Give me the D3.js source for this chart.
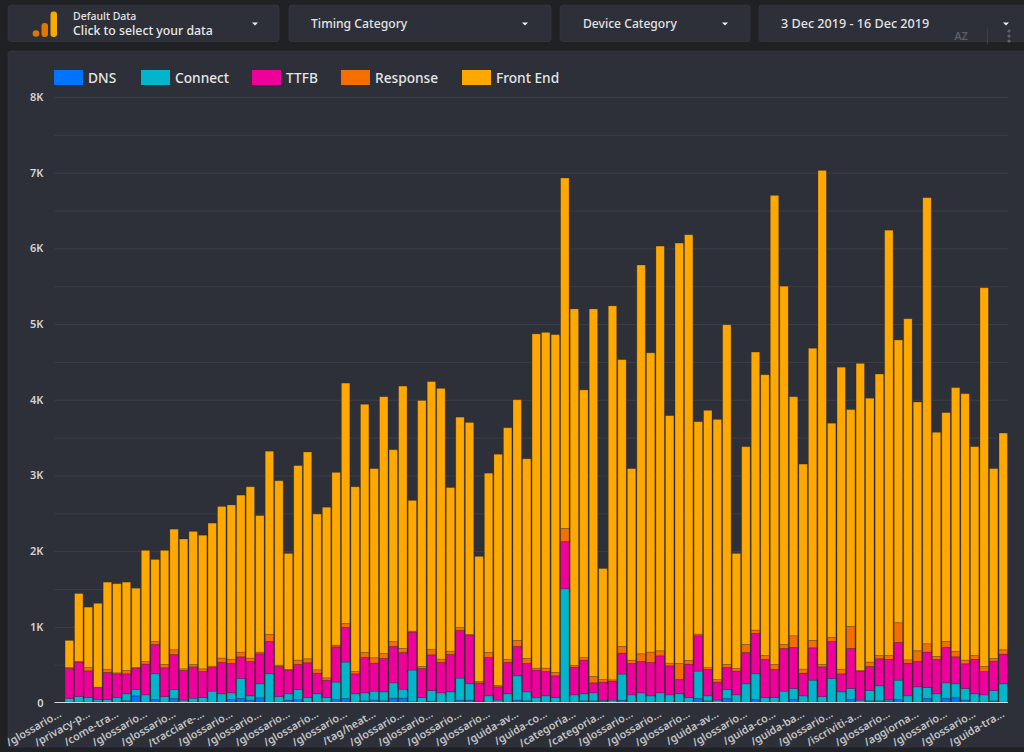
<!DOCTYPE html>
<html><head><meta charset="utf-8">
<script src="https://cdn.jsdelivr.net/npm/d3@7"></script>
<style>
html,body{margin:0;padding:0;background:#202125;overflow:hidden}
svg{display:block}
text{font-family:"Noto Sans",sans-serif}
</style></head><body><div id="chart"></div>
<script>
const seriesNames = ["DNS","Connect","TTFB","Response","Front End"];
const seriesColors = ["#0073ff","#00b5cc","#f0009a","#f56f00","#ffa800"];
const dns = [5,5,5,9,5,5,22,88,5,40,5,53,5,5,5,5,5,40,53,31,62,5,5,31,40,5,5,5,40,53,5,22,31,22,57,57,9,5,18,5,5,31,31,2,5,5,5,31,22,5,5,5,5,5,22,22,22,5,31,5,5,5,5,5,5,5,53,22,5,53,5,5,40,5,5,5,40,5,5,5,5,5,40,5,22,22,22,40,5,5,53,5,57,70,31,5,5,22,5];
const connect = [48,74,61,31,35,61,93,84,96,339,74,119,26,52,61,145,110,88,265,57,185,374,74,84,132,61,110,61,229,481,110,106,119,119,203,119,419,61,141,123,136,291,216,7,83,26,110,322,119,61,83,61,1499,96,93,106,9,26,344,96,123,83,123,96,110,61,362,66,26,119,96,242,339,61,61,145,145,83,290,74,313,136,145,26,137,198,18,255,83,202,145,110,203,177,154,110,96,137,242];
const ttfb = [397,455,353,158,357,313,264,282,406,388,380,463,392,415,344,313,414,388,286,454,397,428,397,313,331,459,273,229,467,458,264,467,370,441,481,485,502,384,471,401,494,630,639,251,507,176,414,388,375,362,322,287,623,366,445,132,238,251,278,415,414,441,489,384,189,441,467,349,238,291,314,414,534,503,371,564,543,300,428,393,489,238,529,384,317,358,529,499,432,335,468,454,468,357,327,454,309,388,392];
const response = [13,8,44,5,40,13,44,9,35,40,44,62,22,31,35,18,58,53,62,45,22,93,18,9,57,53,44,31,22,53,31,66,71,66,66,53,13,26,71,44,44,40,14,18,66,18,40,79,66,26,44,44,173,23,35,84,35,18,88,44,102,137,67,35,212,49,22,26,35,40,35,106,44,53,66,53,154,53,97,31,53,58,291,8,58,44,53,260,44,142,110,40,79,71,48,53,66,35,58];
const frontEnd = [357,898,797,1107,1153,1178,1167,1047,1468,1083,1507,1593,1715,1757,1765,1889,2003,2041,2074,2263,1804,2420,2436,1533,2570,2732,2058,2254,2282,3175,2440,3279,2499,3392,2533,3466,1727,3514,3539,3577,2161,2778,2800,1652,2369,3055,3061,3180,2638,4416,4436,4463,4630,4710,3535,4856,1466,4940,3789,2530,5136,3954,5346,3270,5554,5624,2806,3397,3436,4487,1520,2613,3673,3708,6197,4733,3158,2709,3860,6527,2830,3993,2865,4057,3486,3718,5618,3736,4506,3286,5894,2961,3023,3485,3520,2758,5004,2508,2863];
const tickLabels = ["/glossario...","/privacy-p...","/come-tra...","/glossario...","/glossario...","/tracciare-...","/glossario...","/glossario...","/glossario...","/glossario...","/glossario...","/tag/heat...","/glossario...","/glossario...","/glossario...","/glossario...","/guida-av...","/guida-co...","/categoria...","/categoria...","/glossario...","/glossario...","/glossario...","/guida-av...","/glossario...","/guida-co...","/guida-ba...","/glossario...","/iscriviti-a...","/glossario...","/aggiorna...","/glossario...","/glossario...","/guida-tra..."];
const yTicks = [0,1000,2000,3000,4000,5000,6000,7000,8000];
const gridTicks = [500,1000,1500,2000,2500,3000,3500,4000,4500,5000,5500,6000,6500,7000,7500,8000];
const controls = ["Timing Category","Device Category","3 Dec 2019 - 16 Dec 2019"];

const W=1024,H=752;
const svg=d3.select("#chart").append("svg").attr("width",W).attr("height",H);
const card="#2d3039";
// panels
const boxes=[[8,5,271,36.5],[289,5,262,36.5],[560,5,190,36.5],[759,5,300,36.5]];
svg.selectAll("rect.box").data(boxes).join("rect").attr("class","box")
 .attr("x",d=>d[0]).attr("y",d=>d[1]).attr("width",d=>d[2]).attr("height",d=>d[3])
 .attr("rx",3).attr("fill",card).attr("stroke","#383b44").attr("stroke-width",.6);
svg.append("rect").attr("x",8).attr("y",51).attr("width",1030).attr("height",696).attr("rx",3).attr("fill",card).attr("stroke","#383b44").attr("stroke-width",.6);

// logo
const logo=svg.append("g");
logo.append("circle").attr("cx",36).attr("cy",33.5).attr("r",3.3).attr("fill","#e37400");
logo.append("rect").attr("x",41.5).attr("y",23).attr("width",6.5).attr("height",14).attr("rx",3).attr("fill","#e37400");
logo.append("rect").attr("x",50.5).attr("y",11.5).attr("width",6.5).attr("height",25.5).attr("rx",3).attr("fill","#f9ab00");
svg.append("text").attr("x",73).attr("y",20).attr("font-size",10.5).attr("font-weight",500).attr("fill","#e3e3e3").text("Default Data");
svg.append("text").attr("x",73).attr("y",34.5).attr("font-size",12.3).attr("font-weight",500).attr("fill","#e8e8e8").text("Click to select your data");
const ctlX=[311,583,781];
const ctlSize=[12.2,12.1,12.6];
svg.selectAll("text.ctl").data(controls).join("text").attr("class","ctl")
 .attr("x",(d,i)=>ctlX[i]).attr("y",28).attr("font-size",(d,i)=>ctlSize[i]).attr("font-weight",500).attr("fill","#e3e3e3").text(d=>d);
[255,525,725,1006].forEach(x=>svg.append("path").attr("d",`M${x-3},22.5h6l-3,3z`).attr("fill","#eee"));
svg.append("text").attr("x",961).attr("y",40).attr("text-anchor","middle").attr("font-size",11).attr("font-weight",600).attr("fill","#5a5d66").text("AZ");
svg.append("line").attr("x1",987.5).attr("x2",987.5).attr("y1",28).attr("y2",44).attr("stroke","#3b3e47");
[31,36,41].forEach(y=>svg.append("circle").attr("cx",1009).attr("cy",y).attr("r",1.6).attr("fill","#62656e"));

// scales
const y=d3.scaleLinear().domain([0,8000]).range([702.5,97]);
const x=d3.scaleBand().domain(d3.range(dns.length)).range([64.5,1008]).paddingInner(0.12).paddingOuter(0.06);
const labelX=d3.scalePoint().domain(d3.range(tickLabels.length)).range([62,1005]);

// grid
const grid=svg.append("g").attr("transform","translate(54.5,0)").call(d3.axisLeft(y).tickValues(gridTicks).tickSize(-953.5).tickFormat(""));
grid.select(".domain").remove();
grid.selectAll("line").attr("stroke","#3b3e47").attr("stroke-width",1);

// y axis
const ya=svg.append("g").attr("transform","translate(54.5,0)").call(d3.axisLeft(y).tickValues(yTicks).tickSize(0).tickPadding(11).tickFormat(d=>d===0?"0":(d/1000)+"K"));
ya.select(".domain").remove();
ya.selectAll("text").attr("font-size",11).attr("font-weight",600).attr("fill","#d4d4d4").attr("font-family",'"Noto Sans",sans-serif');

// stacked bars
const rows=dns.map((d,i)=>({i,"DNS":d,"Connect":connect[i],"TTFB":ttfb[i],"Response":response[i],"Front End":frontEnd[i]}));
const stack=d3.stack().keys(seriesNames)(rows);
svg.selectAll("g.s").data(stack).join("g").attr("class","s").attr("fill",(d,i)=>seriesColors[i])
 .selectAll("rect").data(d=>d).join("rect")
 .attr("x",d=>x(d.data.i)).attr("width",x.bandwidth())
 .attr("y",d=>y(d[1])).attr("height",d=>Math.max(0,y(d[0])-y(d[1])))
 .attr("stroke","rgba(40,40,40,.3)").attr("stroke-width",.8);

// baseline
svg.append("line").attr("x1",54.5).attr("x2",1008).attr("y1",702.5).attr("y2",702.5).attr("stroke","#d8d8d8").attr("stroke-width",1.2);

// x labels
svg.append("g").selectAll("text").data(tickLabels).join("text")
 .attr("transform",(d,i)=>`translate(${labelX(i)},716) rotate(-30)`)
 .attr("text-anchor","end").attr("font-size",10.8).attr("font-weight",600).attr("fill","#c4c4c4").text(d=>d);

// legend
const lx=[54,141,252,341,462];
const lg=svg.append("g").selectAll("g").data(seriesNames).join("g").attr("transform",(d,i)=>`translate(${lx[i]},70)`);
lg.append("rect").attr("width",29).attr("height",15).attr("fill",(d,i)=>seriesColors[i]);
lg.append("text").attr("x",34).attr("y",13).attr("font-size",13.7).attr("font-weight",500).attr("fill","#e6e6e6").text(d=>d);
</script></body></html>
